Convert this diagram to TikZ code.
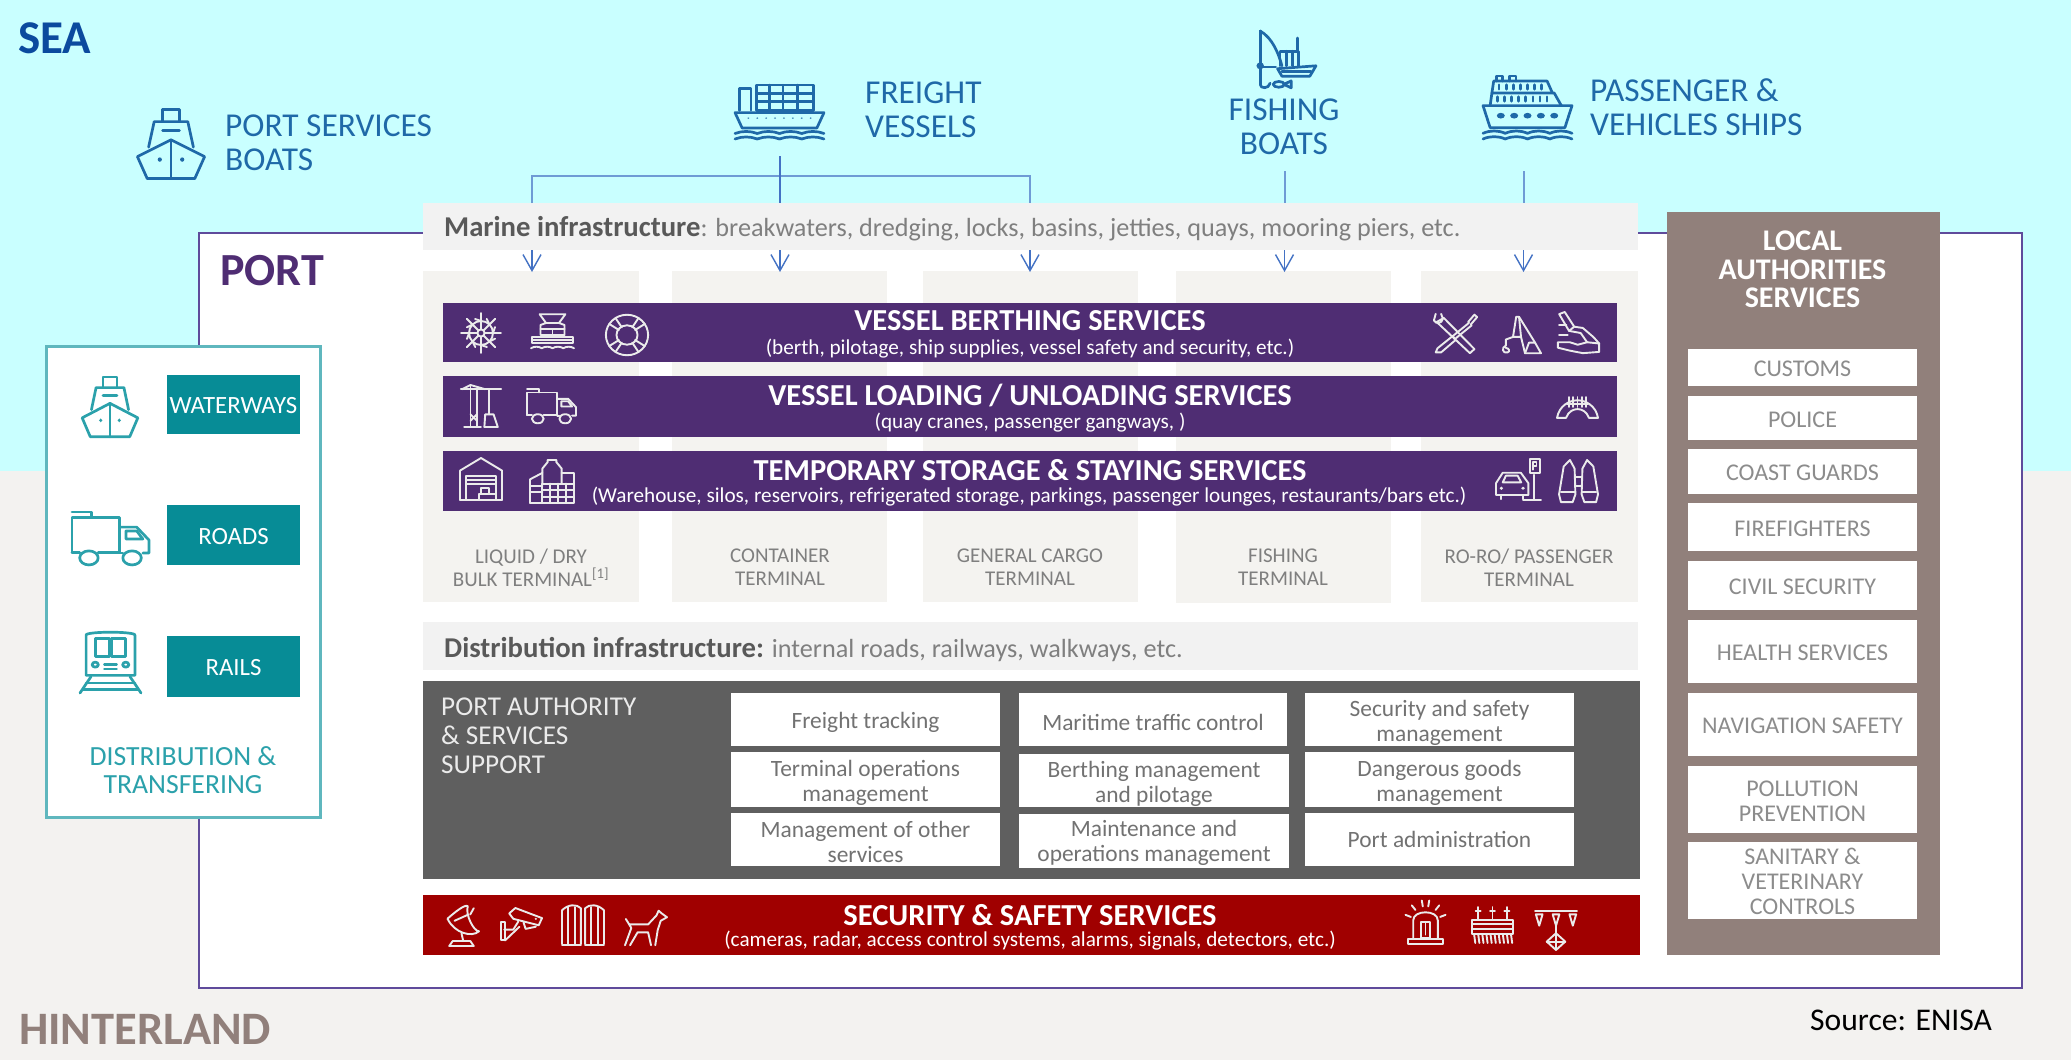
\documentclass[tikz,border=0pt]{standalone}
\usepackage{fontspec}
\setmainfont{Carlito}
\usetikzlibrary{arrows.meta}
\definecolor{seac}{HTML}{C9FFFF}
\definecolor{landc}{HTML}{F3F2F0}
\definecolor{portc}{HTML}{5F4B9B}
\definecolor{purp}{HTML}{4F2D73}
\definecolor{infra}{HTML}{F2F2F2}
\definecolor{term}{HTML}{F4F3F0}
\definecolor{dark}{HTML}{5F5F5F}
\definecolor{redb}{HTML}{A00000}
\definecolor{brown}{HTML}{91807B}
\definecolor{teal1}{HTML}{078C96}
\definecolor{teal2}{HTML}{5FB7BE}
\definecolor{teal3}{HTML}{2BA1AB}
\definecolor{blueic}{HTML}{1F69A8}
\definecolor{seat}{HTML}{0B4A9E}
\definecolor{arrowc}{HTML}{4472C4}
\definecolor{arrowl}{HTML}{6F9BD5}
\definecolor{greyt}{HTML}{7F7F7F}
\newcommand\fs[2]{\fontsize{#1pt}{#2pt}\selectfont}
\newcommand\RBox[7]{\pgfmathsetmacro\bw{#5-#3}\pgfmathsetmacro\bh{#6-#4}%
 \node[#1,minimum width=\bw pt,minimum height=\bh pt,inner sep=0pt,outer sep=0pt,align=center] (#2) at ({(#3+#5)/2},{(#4+#6)/2}) {#7};}
\newcommand\TBox[8]{\pgfmathsetmacro\bw{#6-#4}\pgfmathsetmacro\bh{#7-#5}%
 \node[#1,minimum width=\bw pt,minimum height=\bh pt,inner sep=0pt,outer sep=0pt] (#3) at ({(#4+#6)/2},{(#5+#7)/2}) {};
 \node[#1,inner sep=0pt,align=center] (#3t) at ([yshift=-#2pt]#3.center) {#8};}
\newcommand\Icon[6]{\pgfmathsetmacro\sx{(#4-#2)/100}\pgfmathsetmacro\sy{(#5-#3)/100}%
 \begin{scope}[shift={(#2,#3)},xscale=\sx,yscale=\sy,#6,line join=round,line cap=round]#1\end{scope}}
\newcommand\Waves[1]{\foreach \wv in {0,25,50,75}{\draw (\wv,#1) .. controls (\wv+8,#1-5) and (\wv+17,#1-5) .. (\wv+25,#1);}}
\newcommand\IcShip{\draw (38,20)--(38,3)--(62,3)--(62,20);\draw (18,55)--(26,20)--(74,20)--(82,55);\draw (38,32)--(62,32);
 \draw (50,45)--(98,68)--(84,98)--(16,98)--(2,68)--cycle;\draw (50,45)--(50,98);\fill (34,72) circle (3);\fill (66,72) circle (3);}
\newcommand\IcFreight{\draw (5,48)--(5,8)--(18,8)--(18,48);\draw (24,2) rectangle (88,48);\foreach \g in {39,54,70}{\draw (\g,2)--(\g,48);}\foreach \g in {17,32}{\draw (24,\g)--(88,\g);}
 \draw (0,52)--(100,52)--(92,80)--(8,80)--cycle;\foreach \g in {15,25,...,85}{\fill (\g,62) circle (1.2);}\Waves{90}\Waves{100}}
\newcommand\IcFish{\draw (10,0) .. controls (30,12) and (40,40) .. (45,60);\draw (10,0)--(10,92);\fill (10,60) circle (6);\draw (10,62)--(35,62);
 \draw (38,65)--(100,60)--(90,78)--(45,78)--cycle;\draw (42,60)--(42,35)--(72,35)--(72,60);\draw (52,35)--(52,60);\draw (62,35)--(62,60);\draw (70,35)--(70,12);\draw (45,70)--(92,70);
 \draw (40,92) ellipse (9 and 5);\draw (48,92)--(60,86)--(60,98)--cycle;\draw (10,92) .. controls (10,100) and (24,100) .. (26,90);}
\newcommand\IcPass{\draw (15,8)--(15,0)--(22,0)--(22,8);\draw (30,8)--(30,0)--(37,0)--(37,8);\draw (10,27) -- (12,8)--(72,8)--(78,27);\draw (8,47)--(10,27)--(80,27)--(88,47);
 \foreach \g in {18,26,...,66}{\draw (\g,14)--(\g,21);}\foreach \g in {16,24,...,72}{\draw (\g,33)--(\g,40);}
 \draw (0,47)--(100,47)--(92,82)--(8,82)--cycle;\foreach \g in {20,35,50,65,80}{\fill (\g,63) circle (4.5);}\Waves{91}\Waves{100}}
\newcommand\IcHelm{\draw (50,50) ellipse (30 and 30);\draw (50,50) ellipse (9 and 9);\foreach \a in {0,45,...,315}{\draw ({50+9*cos(\a)},{50+9*sin(\a)})--({50+50*cos(\a)},{50+50*sin(\a)});}\foreach \a in {22,67,...,337}{\draw ({50+38*cos(\a)},{50+38*sin(\a)})--({50+30*cos(\a+23)},{50+30*sin(\a+23)});}}
\newcommand\IcCargo{\draw (20,3)--(80,3)--(65,25)--(78,30)--(78,55)--(22,55)--(22,30)--(35,25)--cycle;\draw (22,40)--(78,40);\draw (50,40)--(50,55);\draw (35,25)--(65,25);\draw (3,60)--(97,60)--(97,74)--(3,74)--cycle;\draw (3,67)--(97,67);\Waves{88}}
\newcommand\IcBuoy{\draw (50,50) ellipse (48 and 46);\draw (50,50) ellipse (24 and 22);\foreach \a in {45,135,225,315}{\draw ({50+22*cos(\a-12)},{50+21*sin(\a-12)})--({50+48*cos(\a-12)},{50+46*sin(\a-12)});\draw ({50+22*cos(\a+12)},{50+21*sin(\a+12)})--({50+48*cos(\a+12)},{50+46*sin(\a+12)});}}
\newcommand\IcTools{\draw (8,22)--(24,12)--(92,88)--(82,98)--(16,30)--cycle;\draw (6,2)--(2,18) .. controls (6,28) and (20,26) .. (22,14) -- (18,2);\draw (78,22)--(92,4)--(98,10)--(84,28);\draw (80,24)--(42,58);\draw (86,30)--(48,64);\draw (44,56)--(10,86)--(6,96)--(18,96)--(50,66)--cycle;}
\newcommand\IcCrane{\draw (38,2)--(30,55)--(50,55)--(45,2)--cycle;\draw (45,2)--(85,70)--(100,98)--(60,98)--(50,55);\draw (60,98)--(70,70)--(85,70);\draw (30,55)--(12,62)--(12,78);\draw (12,78) .. controls (0,82) and (4,100) .. (16,96) .. controls (24,94) and (20,84) .. (12,84);}
\newcommand\IcHook{\draw (5,5)--(18,0)--(40,35)--(28,45)--cycle;\draw (40,35)--(60,38)--(85,60)--(98,75)--(98,95)--(60,98)--(30,92)--(2,85)--(2,72)--(30,72)--(48,78)--(70,72)--(55,50)--(28,45);\draw (70,72)--(98,75);\draw (5,30)--(22,30);\draw (5,55)--(25,55);}
\newcommand\IcCranes{\draw (2,10)--(98,10);\draw (25,0)--(25,100);\draw (40,10)--(40,100);\draw (5,10)--(25,0)--(60,10);\draw (10,100)--(50,100);\draw (70,10)--(70,70);\draw (60,70)--(80,70)--(90,100)--(58,100)--cycle;\draw (25,70)--(40,85);\draw (40,70)--(25,85);}
\newcommand\IcTruck{\draw (0,75)--(0,10)--(62,10)--(62,75);\draw (0,75)--(10,75);\draw (34,75)--(62,75);\draw (0,0)--(25,0)--(25,10);\draw (62,28)--(84,28)--(100,52)--(100,76)--(92,76);\draw (66,76)--(62,76);\draw (70,35)--(84,35)--(92,50)--(70,50)--cycle;\draw (22,85) ellipse (12 and 13);\draw (78,85) ellipse (12 and 13);}
\newcommand\IcGang{\draw (0,95) .. controls (5,40) and (30,15) .. (50,15) .. controls (70,15) and (95,40) .. (100,95)--(78,95) .. controls (72,65) and (60,55) .. (50,55) .. controls (40,55) and (28,65) .. (22,95)--cycle;\foreach \g in {30,40,50,60,70}{\draw (\g,0)--(\g,45);}\draw (25,30)--(75,30);}
\newcommand\IcWare{\draw (0,100)--(0,30)--(50,0)--(100,30)--(100,100);\draw (15,100)--(15,42)--(85,42)--(85,100);\draw (15,52)--(85,52);\draw (15,62)--(85,62);\draw (50,72) rectangle (68,86);\draw (45,86) rectangle (85,100);\draw (0,100)--(100,100);}
\newcommand\IcSilo{\draw (28,55)--(28,20)--(40,5)--(40,0)--(60,0)--(60,5)--(72,20)--(72,55);\draw (0,100)--(0,45)--(28,30);\draw (0,60)--(28,60);\draw (28,55) rectangle (100,100);\draw (72,30)--(100,30)--(100,55);\draw (28,70)--(100,70);\draw (28,85)--(100,85);\foreach \g in {46,64,82}{\draw (\g,55)--(\g,100);}\draw (0,75)--(28,75);\draw (0,100)--(28,100);}
\newcommand\IcCar{\draw (0,88)--(0,60)--(15,35)--(55,35)--(72,60)--(72,88)--cycle;\draw (15,58)--(22,42)--(48,42)--(56,58)--cycle;\draw (12,88)--(12,98);\draw (60,88)--(60,98);\fill (12,72) circle (4);\fill (60,72) circle (4);\draw (85,40)--(85,100);\draw (75,2) rectangle (98,36);\draw (82,28)--(82,10)--(90,10)--(90,20)--(82,20);\draw (60,100)--(100,100);}
\newcommand\IcBino{\draw (40,20)--(28,0)--(12,15)--(0,80)--(5,98)--(35,98)--(42,80)--cycle;\draw (60,20)--(72,0)--(88,15)--(100,80)--(95,98)--(65,98)--(58,80)--cycle;\draw (42,40)--(58,40);\draw (42,60)--(58,60);\draw (5,75)--(40,75);\draw (60,75)--(95,75);}
\newcommand\IcRadar{\draw (10,35) .. controls (30,20) and (60,0) .. (68,5) .. controls (60,25) and (85,65) .. (100,65) .. controls (80,80) and (30,70) .. (10,35);\draw (30,40)--(70,25);\draw (50,70)--(55,88);\draw (15,100)--(25,88)--(75,88)--(85,100)--cycle;\draw (75,25) -- (85,10);}
\newcommand\IcCam{\draw (20,15)--(35,0)--(100,28)--(92,48)--(30,30)--cycle;\draw (55,40)--(60,58)--(85,52);\draw (42,38)--(30,60)--(8,60);\draw (0,40)--(0,90)--(10,90)--(10,40)--cycle;\draw (45,52)--(10,90);\fill (85,30) circle (3);}
\newcommand\IcGate{\draw (0,95)--(0,15) .. controls (15,0) and (35,0) .. (45,10)--(45,95);\draw (55,95)--(55,10) .. controls (65,0) and (85,0) .. (100,15)--(100,95);\foreach \g in {15,30,70,85}{\draw (\g,8)--(\g,95);}\draw (0,98)--(45,98);\draw (55,98)--(100,98);}
\newcommand\IcDog{\draw (0,98)--(15,50)--(10,40)--(55,40)--(75,15)--(80,2)--(88,10)--(100,20)--(85,30)--(78,55)--(72,98);\draw (62,98)--(55,62)--(30,62)--(12,98);\draw (10,40)--(2,25);}
\newcommand\IcSiren{\draw (20,88)--(20,45) .. controls (20,20) and (80,20) .. (80,45)--(80,88);\draw (8,88) rectangle (92,100);\draw (50,50)--(50,78);\foreach \a in {-160,-130,-100,-80,-50,-20}{\draw ({50+38*cos(\a)},{50+38*sin(\a)})--({50+52*cos(\a)},{50+52*sin(\a)});}\draw (38,48)--(62,48)--(62,85)--(38,85)--cycle;}
\newcommand\IcDetect{\foreach \g in {15,50,85}{\draw (\g,0)--(\g,32);\draw (\g-6,12)--(\g+6,12);}\draw (0,35) rectangle (100,75);\draw (0,47)--(100,47);\draw (0,62)--(100,62);\foreach \g in {5,15,...,95}{\draw (\g,75)--(\g+3,100);}}
\newcommand\IcSignal{\draw (0,8)--(100,8);\foreach \g in {10,50,90}{\draw (\g-8,15)--(\g+8,15)--(\g,42)--cycle;}\draw (50,42)--(50,60);\draw (50,60)--(72,80)--(50,100)--(28,80)--cycle;\draw (28,80)--(72,80);\draw (50,60)--(50,100);}
\newcommand\IcTrain{\draw (10,72)--(10,8) .. controls (10,2) and (90,2) .. (90,8)--(90,72)--cycle;\draw (25,14) rectangle (48,42);\draw (52,14) rectangle (75,42);\draw (25,55) ellipse (5 and 4);\draw (75,55) ellipse (5 and 4);\draw (40,55)--(60,55);\draw (40,62)--(60,62);\draw (18,74)--(0,100);\draw (82,74)--(100,100);\draw (10,84)--(90,84);\draw (5,94)--(95,94);}
\tikzset{
 whiteic/.style={color=white!92!black,line width=1.9pt},
 blueicn/.style={color=blueic,line width=2.7pt},
 tealicn/.style={color=teal3,line width=2.7pt},
 conn/.style={arrowc,line width=1.6pt},
 connl/.style={arrowl,line width=2pt},
 arr/.style={arrowc,line width=1.4pt,-{Straight Barb[length=16pt,width=18pt]}},
 bluelab/.style={text=blueic,align=left,font=\fs{33.4}{34}},
 bartitle/.style={text=white,font=\bfseries\fs{30.5}{28}},
 barsub/.style={text=white,font=\fs{21.2}{22}},
 termbox/.style={fill=term,text=greyt},
 wbox/.style={fill=white,text=greyt!90!black,font=\fs{23.4}{25}},
 lbox/.style={fill=white,text=greyt!90,font=\fs{24}{25}},
 tealbox/.style={fill=teal1,text=white,font=\fs{24.8}{26}},
 infrab/.style={fill=infra},
 infrat/.style={text=greyt,font=\fs{26.2}{28}},
 infrabf/.style={},
 termt/.style={inner sep=0pt,align=center,text=greyt,font=\fs{21}{23}},
}
\begin{document}
\begin{tikzpicture}[x=1pt,y=-1pt]
\useasboundingbox (0,0) rectangle (2071,1060);
\RBox{fill=landc}{land}{0}{0}{2071}{1060}{}
\RBox{fill=seac}{sea}{0}{0}{2071}{471}{}
\node[anchor=west,inner sep=0pt,text=seat,font=\bfseries\fs{47}{50}] (sealab) at (18,38) {SEA};
\RBox{draw=portc,line width=2.5pt,fill=white}{port}{199}{233}{2022}{988}{}
\node[anchor=west,inner sep=0pt,text=purp,font=\bfseries\fs{46}{50}] (portlab) at (220,271) {PORT};
\node[anchor=west,inner sep=0pt,text=brown,font=\bfseries\fs{46.5}{50}] (hinter) at (19,1029) {HINTERLAND};
\node[anchor=west,inner sep=0pt,text=black,font=\fs{31.6}{34}] (src) at (1810,1020) {Source: ENISA};
% sea labels
\Icon{\IcShip}{136}{107}{206}{180}{blueicn}
\node[anchor=west,inner sep=0pt,bluelab] (psb) at (225,142.5) {PORT SERVICES\\BOATS};
\Icon{\IcFreight}{735}{84}{824}{139}{blueicn}
\node[anchor=west,inner sep=0pt,bluelab] (fv) at (865,109.5) {FREIGHT\\VESSELS};
\Icon{\IcFish}{1254}{31}{1316}{89}{blueicn}
\node[inner sep=0pt,bluelab,align=center] (fb) at (1284,126.5) {FISHING\\BOATS};
\Icon{\IcPass}{1483}{76}{1572}{139}{blueicn}
\node[anchor=west,inner sep=0pt,bluelab] (pv) at (1590,107.5) {PASSENGER \&\\VEHICLES SHIPS};
% marine
\RBox{infrab}{marine}{423}{203}{1638}{250}{}
\node[anchor=west,inner sep=0pt,infrat] (marinet) at (444,229) {\textcolor{black!65}{\bfseries\fs{28.7}{28}Marine infrastructure}: breakwaters, dredging, locks, basins, jetties, quays, mooring piers, etc.};
% terminals
\RBox{termbox}{t1}{423}{271}{639}{602}{}
\RBox{termbox}{t2}{672}{271}{887}{602}{}
\RBox{termbox}{t3}{923}{271}{1138}{602}{}
\RBox{termbox}{t4}{1176}{271}{1391}{603}{}
\RBox{termbox}{t5}{1421}{271}{1638}{602}{}
\node[termt] (tt1) at (531,567.5) {LIQUID / DRY\\BULK TERMINAL\textsuperscript{[1]}};
\node[termt] (tt2) at (780,567.5) {CONTAINER\\TERMINAL};
\node[termt] (tt3) at (1030,567.5) {GENERAL CARGO\\TERMINAL};
\node[termt] (tt4) at (1283,567.5) {FISHING\\TERMINAL};
\node[termt] (tt5) at (1529,567.5) {RO-RO/ PASSENGER\\TERMINAL};
% connectors
\coordinate (fvsrc) at (780,156);
\coordinate (fishsrc) at (1284.5,171);
\coordinate (passsrc) at (1523.5,171);
\coordinate (busl) at (532,176);
\coordinate (busr) at (1030,176);
\coordinate (m1) at (532,203); \coordinate (m2) at (780,203); \coordinate (m3) at (1030,203); \coordinate (m4) at (1284.5,203); \coordinate (m5) at (1523.5,203);
\coordinate (a1) at (532,250); \coordinate (a2) at (780,250); \coordinate (a3) at (1030,250); \coordinate (a4) at (1284.5,250); \coordinate (a5) at (1523.5,250);
\coordinate (b1) at (532,272); \coordinate (b2) at (780,272); \coordinate (b3) at (1030,272); \coordinate (b4) at (1284.5,272); \coordinate (b5) at (1523.5,272);
\draw[connl] (m1) -- (busl) -- (busr) -- (m3);
\draw[conn] (fvsrc) -- (m2);
\draw[connl] (fishsrc) -- (m4);
\draw[connl] (passsrc) -- (m5);
\foreach \i in {1,...,5}{\draw[arr] (a\i) -- (b\i);}
% purple bars
\RBox{fill=purp}{bar1}{443}{303}{1617}{362}{}
\RBox{fill=purp}{bar2}{443}{376}{1617}{437}{}
\RBox{fill=purp}{bar3}{443}{451}{1617}{511}{}
\node[bartitle,inner sep=0pt] (b1t) at (1030,321) {VESSEL BERTHING SERVICES};
\node[barsub,inner sep=0pt] (b1s) at (1030,349) {(berth, pilotage, ship supplies, vessel safety and security, etc.)};
\node[bartitle,inner sep=0pt] (b2t) at (1030,395.5) {VESSEL LOADING / UNLOADING SERVICES};
\node[barsub,inner sep=0pt] (b2s) at (1030,423) {(quay cranes, passenger gangways, )};
\node[bartitle,inner sep=0pt] (b3t) at (1030,470) {TEMPORARY STORAGE \& STAYING SERVICES};
\node[barsub,inner sep=0pt] (b3s) at (1029,497) {(Warehouse, silos, reservoirs, refrigerated storage, parkings, passenger lounges, restaurants/bars etc.)};
\Icon{\IcHelm}{461}{313}{501}{353}{whiteic}
\Icon{\IcCargo}{531}{313}{574}{353}{whiteic}
\Icon{\IcBuoy}{605}{313}{649}{357}{whiteic}
\Icon{\IcTools}{1433}{313}{1478}{354}{whiteic}
\Icon{\IcCrane}{1501}{316}{1541}{354}{whiteic}
\Icon{\IcHook}{1557}{312}{1600}{354}{whiteic}
\Icon{\IcCranes}{460}{385}{502}{427}{whiteic}
\Icon{\IcTruck}{527}{389}{576}{424}{whiteic}
\Icon{\IcGang}{1557}{397}{1598}{419}{whiteic}
\Icon{\IcWare}{460}{458}{502}{500}{whiteic}
\Icon{\IcSilo}{530}{460}{574}{503}{whiteic}
\Icon{\IcCar}{1496}{458}{1541}{500}{whiteic}
\Icon{\IcBino}{1559}{460}{1598}{503}{whiteic}
% distribution infra
\RBox{infrab}{dinfra}{423}{622}{1638}{670}{}
\node[anchor=west,inner sep=0pt,infrat] (dinfrat) at (444,649.5) {\textcolor{black!65}{\bfseries\fs{28.7}{28}Distribution infrastructure:} internal roads, railways, walkways, etc.};
% port authority
\RBox{fill=dark}{pa}{423}{681}{1640}{879}{}
\node[anchor=north west,inner sep=0pt,text=white!92!black,align=left,font=\fs{27.2}{29}] (pat) at (441,698) {PORT AUTHORITY\\\&~SERVICES\\SUPPORT};
\TBox{wbox}{2.5}{w11}{731}{693}{1000}{746}{Freight tracking}
\TBox{wbox}{3.5}{w12}{731}{752}{1000}{807}{Terminal operations\\management}
\TBox{wbox}{2}{w13}{731}{813}{1000}{866}{Management of other\\services}
\TBox{wbox}{2.5}{w21}{1019}{693}{1287}{746}{Maritime traffic control}
\TBox{wbox}{3.5}{w22}{1019}{754}{1289}{807}{Berthing management\\and pilotage}
\TBox{wbox}{2}{w23}{1019}{814}{1289}{868}{Maintenance and\\operations management}
\TBox{wbox}{3}{w31}{1305}{693}{1574}{746}{Security and safety\\management}
\TBox{wbox}{3.5}{w32}{1305}{752}{1574}{807}{Dangerous goods\\management}
\TBox{wbox}{0}{w33}{1305}{813}{1574}{866}{Port administration}
% security
\RBox{fill=redb}{sec}{423}{895}{1640}{955}{}
\node[bartitle,inner sep=0pt] (sect) at (1030,915) {SECURITY \& SAFETY SERVICES};
\node[barsub,inner sep=0pt] (secs) at (1030,941) {(cameras, radar, access control systems, alarms, signals, detectors, etc.)};
\Icon{\IcRadar}{444}{904}{479}{946}{whiteic}
\Icon{\IcCam}{501}{908}{542}{944}{whiteic}
\Icon{\IcGate}{562}{904}{604}{946}{whiteic}
\Icon{\IcDog}{625}{910}{667}{946}{whiteic}
\Icon{\IcSiren}{1405}{901}{1446}{944}{whiteic}
\Icon{\IcDetect}{1472}{907}{1513}{943}{whiteic}
\Icon{\IcSignal}{1535}{908}{1577}{950}{whiteic}
% local authorities
\RBox{fill=brown}{la}{1667}{212}{1940}{955}{}
\node[inner sep=0pt,align=center,text=white,font=\bfseries\fs{30}{28.3}] (lat) at (1802.5,269.5) {LOCAL\\AUTHORITIES\\SERVICES};
\TBox{lbox}{1.5}{l1}{1688}{349}{1917}{386}{CUSTOMS}
\TBox{lbox}{1.5}{l2}{1688}{396}{1917}{440}{POLICE}
\TBox{lbox}{1.5}{l3}{1688}{449}{1917}{494}{COAST GUARDS}
\TBox{lbox}{1.5}{l4}{1688}{503}{1917}{551}{FIREFIGHTERS}
\TBox{lbox}{1.5}{l5}{1688}{561}{1917}{610}{CIVIL SECURITY}
\TBox{lbox}{1.5}{l6}{1688}{620}{1917}{683}{HEALTH SERVICES}
\TBox{lbox}{1.5}{l7}{1688}{693}{1917}{756}{NAVIGATION SAFETY}
\TBox{lbox}{1.5}{l8}{1688}{766}{1917}{833}{POLLUTION\\PREVENTION}
\TBox{lbox}{0.5}{l9}{1688}{842}{1917}{919}{SANITARY \&\\VETERINARY\\CONTROLS}
% distribution box
\RBox{draw=teal2,line width=3pt,fill=white}{dist}{46}{346}{320}{817}{}
\TBox{tealbox}{1.5}{way}{167}{375}{300}{434}{WATERWAYS}
\TBox{tealbox}{1.5}{road}{167}{505}{300}{565}{ROADS}
\TBox{tealbox}{1.5}{rail}{167}{636}{300}{697}{RAILS}
\Icon{\IcShip}{81}{375}{139}{438}{tealicn}
\Icon{\IcTruck}{72}{512}{149}{566}{tealicn}
\Icon{\IcTrain}{80}{630}{141}{693}{tealicn}
\node[inner sep=0pt,align=center,text=teal3,font=\fs{27.7}{27.5}] (distt) at (183,770) {DISTRIBUTION \&\\TRANSFERING};
\end{tikzpicture}
\end{document}
